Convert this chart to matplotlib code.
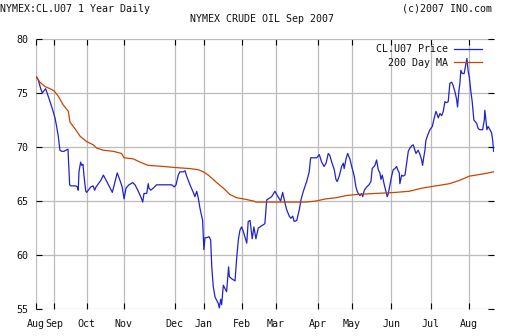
import matplotlib
matplotlib.use("Agg")
import matplotlib.pyplot as plt

# trading-day index (0 = start of Aug) and price
price_day = [0, 1.1, 2.4, 3.3, 4.2, 5.1, 5.7, 7.5, 9.0, 10.2, 11.1, 12.0, 12.9, 13.9, 15.1,
             16.2, 17.3, 18.2, 18.8, 21.5, 22.4, 22.9, 23.3, 24.2, 24.8, 25.5, 26.0, 27.0,
             27.5, 28.8, 29.7, 31.0, 31.9, 32.6, 35.2, 36.6, 38.8, 41.5, 43.0, 44.2, 45.7,
             46.9, 47.9, 49.0, 50.6, 52.6, 53.9, 55.7, 57.5, 58.1, 58.8, 60.3, 61.1, 61.5,
             62.5, 63.9, 65.7, 68.5, 71.2, 73.9, 75.3, 76.3, 77.5, 78.4, 80.2, 81.2, 82.1,
             83.9, 85.7, 86.6, 87.6, 88.4, 89.4, 90.8, 91.5, 92.1, 93.0, 94.3, 95.2, 95.8,
             96.6, 97.6, 98.5, 99.4, 99.9, 100.7, 101.2, 102.1, 103.0, 103.9, 105.0, 105.4,
             106.7, 108.5, 109.4, 110.3, 111.2, 112.1, 113.0, 114.9, 115.7, 116.7, 117.9,
             118.8, 119.9, 121.2, 122.1, 123.9, 124.8, 125.8, 126.7, 128.5, 130.3, 131.6,
             132.7, 133.4, 134.5, 135.8, 136.7, 138.1, 139.0, 140.0, 140.8, 142.2, 143.6,
             144.5, 145.8, 147.6, 149.0, 149.8, 151.2, 153.1, 154.5, 155.8, 157.1, 158.2,
             159.4, 160.3, 161.3, 162.7, 163.6, 164.3, 165.4, 166.7, 167.6, 168.1, 169.1,
             170.0, 171.2, 172.2, 173.6, 174.5, 175.2, 175.8, 176.7, 177.6, 178.2, 179.1,
             180.4, 181.6, 182.7, 183.4, 184.9, 185.8, 186.7, 187.6, 188.2, 188.9, 190.0,
             190.7, 191.6, 192.2, 193.1, 194.0, 194.9, 195.8, 196.7, 197.3, 198.2, 198.5,
             199.5, 200.3, 201.3, 202.2, 203.1, 204.0, 204.9, 205.8, 206.7, 207.3, 208.5,
             209.5, 210.4, 210.9, 211.6, 212.2, 212.7, 213.7, 214.9, 216.2, 217.3, 218.2,
             218.9, 219.5, 220.4, 221.3, 222.2, 223.1, 224.0, 224.9, 225.8, 226.8, 227.6,
             228.6, 229.5, 230.0, 230.8, 231.3, 231.8, 232.6, 233.6, 234.6, 235.1, 235.8,
             236.4, 237.3, 238.0, 238.9, 239.9, 240.4, 241.3, 242.2, 243.7, 244.6, 244.9,
             245.5, 246.0, 246.7, 247.7, 248.6, 249.2, 249.7]
price = [76.5, 76.2, 75.4, 75.0, 75.2, 75.4, 75.1, 74.2, 73.4, 72.7, 71.9, 71.0, 69.7, 69.6, 69.6,
         69.7, 69.8, 66.5, 66.4, 66.4, 66.3, 66.0, 67.7, 68.6, 68.3, 68.4, 67.4, 65.9,
         65.8, 66.1, 66.3, 66.4, 66.0, 66.3, 66.9, 67.4, 66.7, 65.8, 66.8, 67.6, 66.9,
         66.3, 65.2, 66.2, 66.5, 66.7, 66.5, 65.9, 65.2, 64.9, 65.7, 65.7, 66.6, 66.2,
         66.0, 66.2, 66.5, 66.5, 66.5, 66.5, 66.3, 66.5, 67.4, 67.7, 67.7, 67.8, 67.3,
         66.5, 65.8, 65.4, 65.9, 65.3, 64.3, 63.2, 60.5, 61.6, 61.6, 61.7, 61.4, 58.9,
         57.1, 56.1, 55.8, 55.5, 55.1, 55.9, 55.4, 57.2, 56.9, 56.6, 58.9, 58.0,
         57.8, 57.6, 59.7, 61.4, 62.3, 62.6, 62.2, 61.1, 63.1, 63.2, 61.5,
         62.6, 61.5, 62.5, 62.6, 62.8, 62.9, 65.1, 65.2, 65.4, 65.9, 65.5,
         65.2, 65.0, 65.8, 64.8, 64.2, 63.6, 63.4, 63.6, 63.1, 63.2, 64.2,
         65.1, 65.9, 66.8, 67.7, 69.0, 69.0, 69.0, 69.3, 68.6, 68.2, 68.5,
         69.4, 69.2, 68.6, 67.9, 67.0, 66.8, 67.3, 68.2, 68.5, 68.0, 68.9,
         69.4, 68.9, 68.2, 67.3, 66.3, 65.9, 65.7, 65.5, 65.7, 65.4, 66.0,
         66.3, 66.5, 66.8, 68.0, 68.3, 68.8, 67.9, 67.6, 67.0, 67.4, 66.5,
         66.0, 65.4, 65.7, 66.5, 67.3, 67.9, 68.0, 68.2, 67.9, 67.6, 66.6,
         67.4, 67.3, 67.4, 68.5, 69.6, 69.9, 70.1, 70.2, 69.7, 69.4, 69.7,
         69.3, 68.8, 68.3, 69.1, 69.7, 70.6, 71.1, 71.6, 71.9, 72.7, 73.3,
         73.0, 72.7, 73.1, 72.9, 73.3, 74.2, 74.1, 74.2, 75.9, 76.0, 75.7,
         75.1, 74.4, 73.7, 75.3, 75.9, 77.1, 76.8, 76.8, 77.7, 78.2, 77.0,
         76.5, 75.1, 74.2, 72.5, 72.3, 72.2, 71.7, 71.6, 71.6, 72.5, 73.4,
         72.5, 71.6, 71.9, 71.6, 71.3, 70.6, 69.6]

ma_day = [0, 2.0, 4.7, 7.5, 9.7, 12.0, 14.7, 17.5, 18.4, 21.1, 23.9, 27.5, 31.1, 33.0, 36.6,
          42.0, 46.6, 47.9, 53.0, 56.6, 61.1, 69.3, 75.7, 83.9, 88.4, 91.2, 93.9, 96.6,
          98.5, 102.1, 105.7, 109.4, 113.0, 118.5, 119.9, 130.9, 147.2, 152.7, 158.2,
          163.6, 169.1, 174.5, 185.4, 196.4, 203.6, 210.9, 218.2, 225.5, 230.9, 236.4,
          243.7, 249.7]
ma200 = [76.5, 76.0, 75.6, 75.4, 75.2, 74.7, 73.9, 73.3, 72.3, 71.7, 71.0, 70.5, 70.2, 69.9, 69.7,
         69.6, 69.4, 69.0, 68.9, 68.6, 68.3, 68.2, 68.1, 68.0, 67.9, 67.7, 67.4, 67.0,
         66.7, 66.2, 65.6, 65.3, 65.2, 65.0, 64.9, 64.9, 64.9, 65.0, 65.2,
         65.3, 65.5, 65.6, 65.7, 65.8, 65.9, 66.2, 66.4, 66.6, 66.9, 67.3,
         67.5, 67.7]

month_pos = [0, 9.8, 27.5, 47.7, 75.5, 91.4, 112.1, 130.7, 153.9, 172.4, 193.7, 215.3, 236.0]
month_lbl = ["Aug", "Sep", "Oct", "Nov", "Dec", "Jan", "Feb", "Mar", "Apr", "May", "Jun", "Jul", "Aug"]
y_ticks = [55, 60, 65, 70, 75, 80]

plt.rcParams['font.family'] = ['DejaVu Sans Mono']
fs = 7.2

fig = plt.figure(figsize=(5.12, 3.36), dpi=100)
ax = fig.add_axes([36.3/512, 1 - 309/336, (494 - 36.3)/512, 270/336])

ax.plot(price_day, price, color='#2222cc', lw=0.9, label='CL.U07 Price')
ax.plot(ma_day, ma200, color='#c84400', lw=0.9, label='200 Day MA')

ax.set_xlim(0, 249.9)
ax.set_ylim(55, 80)
ax.set_xticks(month_pos)
ax.set_xticklabels(month_lbl)
ax.set_yticks(y_ticks)
ax.grid(True, color='#bbbbbb', lw=0.9)
ax.set_axisbelow(True)
for s in ax.spines.values():
    s.set_visible(False)
ax.tick_params(direction='in', length=4, width=0.8, color='black',
               top=True, right=True, labelsize=fs, labelcolor='#111111')
ax.tick_params(axis='x', pad=7)
ax.tick_params(axis='y', pad=6)

leg = ax.legend(loc='upper right', bbox_to_anchor=(482/512, 1 - 44.5/336),
                bbox_transform=fig.transFigure, frameon=False, markerfirst=False,
                fontsize=fs, handlelength=2.8, handletextpad=0.65, labelspacing=0.3,
                borderpad=0, borderaxespad=0)
for t in leg.get_texts():
    t.set_color('#111111')

fig.text(0, 1 - 8.5/336, "NYMEX:CL.U07 1 Year Daily", fontsize=fs, va='center', ha='left', color='#111111')
fig.text(492/512, 1 - 8.5/336, "(c)2007 INO.com", fontsize=fs, va='center', ha='right', color='#111111')
fig.text(262.5/512, 1 - 19.5/336, "NYMEX CRUDE OIL Sep 2007", fontsize=fs, va='center', ha='center', color='#111111')

fig.savefig("out.png", dpi=100)
